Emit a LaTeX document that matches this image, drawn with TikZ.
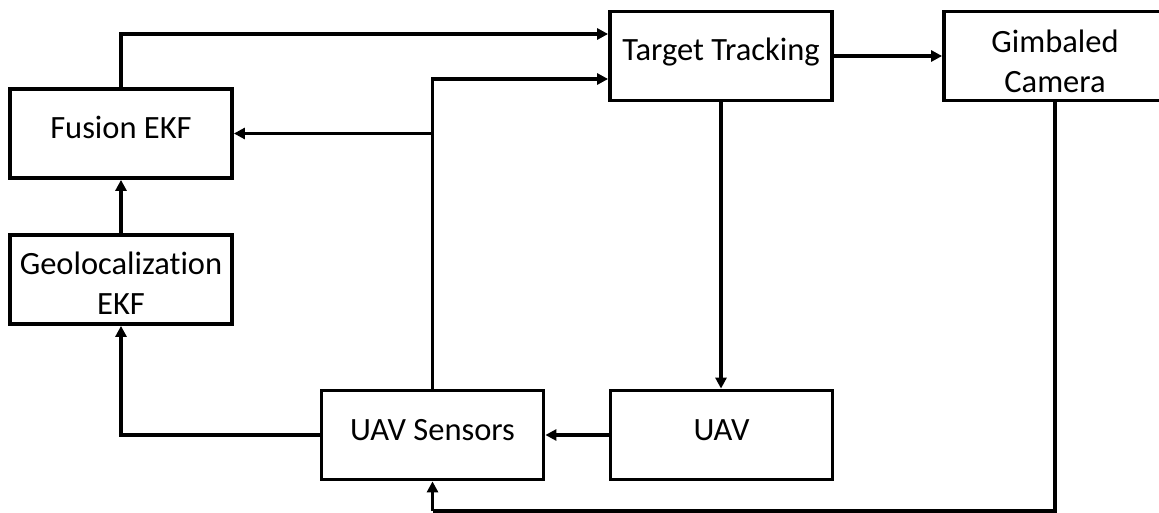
\documentclass[tikz,border=0pt]{standalone}
\usepackage{fontspec}
\setmainfont[Ligatures=NoCommon]{Carlito}
\usetikzlibrary{arrows.meta}
\tikzset{
  block/.style={draw=black, line width=3.8pt, minimum width=222pt, minimum height=89pt, inner sep=0pt},
  lbl/.style={font=\fontsize{32.5}{40}\selectfont, align=center, inner sep=0pt},
  conn/.style={line width=3.4pt, -{Triangle[length=11pt,width=11pt]}},
  wire/.style={line width=3.4pt}
}
\begin{document}
\begin{tikzpicture}[x=1pt,y=-1pt]
  \useasboundingbox (0,0) rectangle (1159,513);
  \clip (0,0) rectangle (1159,513);

  % blocks
  \node[block] (fus) at (121,133.5) {};
  \node[block] (geo) at (121,279.5) {};
  \node[block] (tt)  at (721,56) {};
  \node[block] (gim) at (1055,56) {};
  \node[block] (uavs) at (432.5,435) {};
  \node[block] (uav)  at (721.5,435) {};

  % block titles
  \node[lbl, anchor=base] (fusT) at ([yshift=-5pt]fus.center) {Fusion EKF};
  \node[lbl] (geoT) at ([yshift=-4pt]geo.center) {Geolocalization\\EKF};
  \node[lbl, anchor=base] (ttT) at ([yshift=-5pt]tt.center) {Target Tracking};
  \node[lbl] (gimT) at ([yshift=-5pt]gim.center) {Gimbaled\\Camera};
  \node[lbl, anchor=base] (uavsT) at ([yshift=-5pt]uavs.center) {UAV Sensors};
  \node[lbl, anchor=base] (uavT) at ([yshift=-5pt]uav.center) {UAV};

  % connectors
  \draw[conn] (fus.north) |- ([yshift=22pt]tt.west);
  \draw[conn] (uavs.north) |- ([yshift=-23pt]tt.west);
  \coordinate (br) at (uavs.north |- fus.east);
  \draw[conn] (br) -- (fus.east);
  \draw[conn] (geo.north) -- (fus.south);
  \draw[conn] (uavs.west) -| (geo.south);
  \draw[conn] (tt.east) -- (tt.east -| gim.west);
  \draw[conn] (tt.south) -- (uav.north -| tt.south);
  \draw[conn] (uav.west) -- (uavs.east);
  \coordinate (fb) at (432.5,511);
  \draw[wire] (gim.south) |- (fb);
  \draw[conn] (fb) -- (uavs.south);
\end{tikzpicture}
\end{document}
